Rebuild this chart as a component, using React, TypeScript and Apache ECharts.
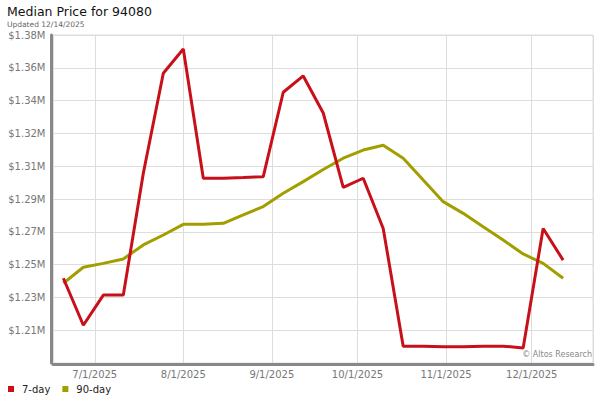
import React, { useEffect, useRef } from "react";
import * as echarts from "echarts";

const weekDates: string[] = [
  "2025-06-20", "2025-06-27", "2025-07-04", "2025-07-11", "2025-07-18", "2025-07-25",
  "2025-08-01", "2025-08-08", "2025-08-15", "2025-08-22", "2025-08-29", "2025-09-05",
  "2025-09-12", "2025-09-19", "2025-09-26", "2025-10-03", "2025-10-10", "2025-10-17",
  "2025-10-24", "2025-10-31", "2025-11-07", "2025-11-14", "2025-11-21", "2025-11-28",
  "2025-12-05", "2025-12-12",
];

const price7Day: number[] = [
  1242600, 1216100, 1233100, 1233100, 1301800, 1358200, 1371900, 1299000, 1299000,
  1299400, 1299900, 1347500, 1356700, 1335800, 1293900, 1299000, 1270700, 1204300,
  1204300, 1203900, 1203900, 1204200, 1204300, 1203300, 1270700, 1252800,
];

const price90Day: number[] = [
  1239800, 1248800, 1251000, 1253500, 1261400, 1267000, 1273000, 1273000, 1273600,
  1278300, 1283000, 1290500, 1297100, 1303900, 1310300, 1314900, 1317600, 1310300,
  1298000, 1285800, 1279200, 1271700, 1264200, 1256300, 1251000, 1242600,
];

const seriesNames = ["7-day", "90-day"];
const seriesColors = ["#c8101a", "#a39e00"];

const titleText = "Median Price for 94080";
const subtitleText = "Updated 12/14/2025";
const watermarkText = "© Altos Research";

const yMin = 1194800;
const yMax = 1379800;
const yStep = 18500;

const xStart = "2025-06-16T09:00:00";
const xEnd = "2025-12-22T11:00:00";

function toTs(s: string): number {
  const [y, m, d] = s.split("-").map(Number);
  return new Date(y, m - 1, d).getTime();
}

export default function App() {
  const ref = useRef<HTMLDivElement>(null);
  useEffect(() => {
    if (!ref.current) return;
    const chart = echarts.init(ref.current, null, { renderer: "svg" });
    const font = "DejaVu Sans";
    const mk = (vals: number[]) => weekDates.map((d, i) => [toTs(d), vals[i]]);
    chart.setOption({
      animation: false,
      backgroundColor: "#fff",
      legend: {
        left: 3,
        top: 379,
        icon: "rect",
        itemWidth: 6,
        itemHeight: 6,
        itemGap: 12,
        data: seriesNames,
        textStyle: { fontFamily: font, fontSize: 10, color: "#222", padding: [0, 0, 0, 3] },
      },
      grid: {
        left: 53,
        right: 7,
        top: 35,
        bottom: 37,
        show: true,
        borderColor: "#dddddd",
        borderWidth: 1,
        containLabel: false,
      },
      xAxis: {
        type: "time",
        min: new Date(xStart).getTime(),
        max: new Date(xEnd).getTime(),
        offset: 1.5,
        splitNumber: 6,
        axisLine: { show: true, lineStyle: { color: "#888", width: 3 } },
        axisTick: { show: false },
        axisLabel: {
          fontFamily: font,
          fontSize: 10,
          color: "#777",
          margin: 5,
          hideOverlap: false,
          formatter: (v: number) => {
            const d = new Date(v);
            return `${d.getMonth() + 1}/${d.getDate()}/${d.getFullYear()}`;
          },
        },
        splitLine: { show: true, lineStyle: { color: "#dddddd", width: 1 } },
      },
      yAxis: {
        type: "value",
        min: yMin,
        max: yMax,
        interval: yStep,
        offset: 1.5,
        axisLine: { show: true, lineStyle: { color: "#888", width: 3 } },
        axisTick: { show: false },
        axisLabel: {
          fontFamily: font,
          fontSize: 10,
          color: "#777",
          margin: 6,
          showMinLabel: false,
          formatter: (v: number) => "$" + (Math.round(v / 10000) / 100).toFixed(2) + "M",
        },
        splitLine: { show: true, lineStyle: { color: "#dddddd", width: 1 } },
      },
      graphic: [
        {
          type: "text",
          left: 7,
          top: 5,
          style: {
            text: titleText,
            fontFamily: font,
            fontSize: 12.5,
            fontWeight: "normal",
            fill: "#111",
          },
        },
        {
          type: "text",
          left: 7,
          top: 20.5,
          style: {
            text: subtitleText,
            fontFamily: font,
            fontSize: 7.5,
            fill: "#666",
          },
        },
        {
          type: "text",
          right: 8,
          top: 350,
          style: {
            text: watermarkText,
            fontFamily: font,
            fontSize: 8,
            fill: "#888",
          },
        },
      ],
      series: [
        {
          name: seriesNames[0],
          type: "line",
          data: mk(price7Day),
          symbol: "none",
          color: seriesColors[0],
          lineStyle: { width: 3, color: seriesColors[0] },
          z: 3,
        },
        {
          name: seriesNames[1],
          type: "line",
          data: mk(price90Day),
          symbol: "none",
          color: seriesColors[1],
          lineStyle: { width: 3, color: seriesColors[1] },
          z: 2,
        },
      ],
    });
    return () => chart.dispose();
  }, []);
  return (
    <div
      ref={ref}
      style={{ position: "fixed", left: 0, top: 0, width: 600, height: 400 }}
    />
  );
}
